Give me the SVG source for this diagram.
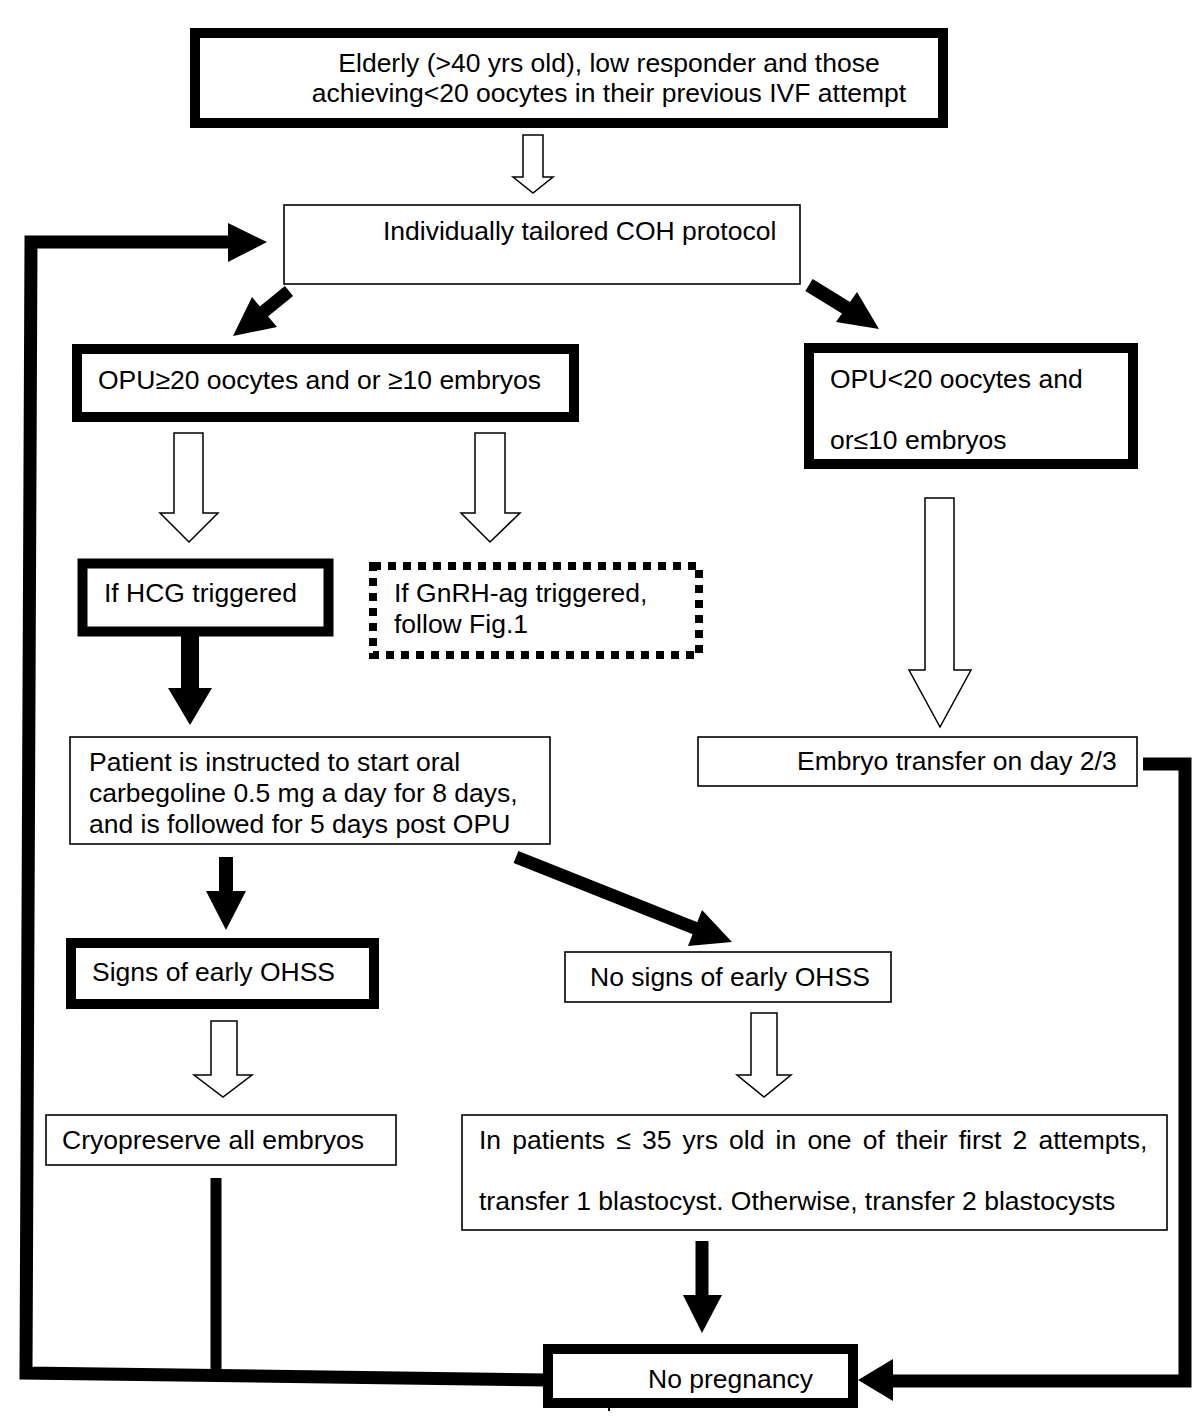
<svg xmlns="http://www.w3.org/2000/svg" width="1200" height="1422" viewBox="0 0 1200 1422">
<style>
.thick{fill:#fff;stroke:#000;stroke-width:10}
.thin{fill:#fff;stroke:#000;stroke-width:1.6}
.dotted{fill:#fff;stroke:#000;stroke-width:8;stroke-dasharray:8 7}
.hollow{fill:#fff;stroke:#000;stroke-width:1.5;stroke-linejoin:miter}
.head{fill:#000;stroke:none}
.bar{fill:none;stroke:#000;stroke-linejoin:miter;stroke-linecap:butt}
text{font-family:"Liberation Sans",Arial,sans-serif;font-size:26.5px;fill:#000}
</style>
<rect width="1200" height="1422" fill="#fff"/>
<g id="connectors">
  <!-- hollow arrows -->
  <polygon class="hollow" points="523,135 543,135 543,177 553,177 533,193 513,177 523,177 523,135"/>
  <polygon class="hollow" points="174,433 203,433 203,513 218,513 189,542 160,513 174,513 174,433"/>
  <polygon class="hollow" points="475,433 505,433 505,513 520,513 490,542 461,513 475,513 475,433"/>
  <polygon class="hollow" points="925,498 954,498 954,670 971,670 940,727 909,670 925,670 925,498"/>
  <polygon class="hollow" points="211,1021 237,1021 237,1075 252,1075 223,1097 194,1075 211,1075 211,1021"/>
  <polygon class="hollow" points="751,1013 777,1013 777,1075 791,1075 764,1097 737,1075 751,1075 751,1013"/>
  <!-- solid diagonal arrows -->
  <line class="bar" x1="289" y1="291" x2="262" y2="313" stroke-width="13"/>
  <polygon class="head" points="233,336 252,297 277,327"/>
  <line class="bar" x1="809" y1="285" x2="848" y2="309" stroke-width="14"/>
  <polygon class="head" points="879,329 836,322 857,292"/>
  <line class="bar" x1="516" y1="857" x2="697" y2="929" stroke-width="13"/>
  <polygon class="head" points="732,942 702,910 688,946"/>
  <!-- solid down arrows -->
  <line class="bar" x1="190" y1="636" x2="190" y2="690" stroke-width="18"/>
  <polygon class="head" points="168,688 212,688 190,725"/>
  <line class="bar" x1="226" y1="857" x2="226" y2="893" stroke-width="14"/>
  <polygon class="head" points="206,891 246,891 226,930"/>
  <line class="bar" x1="702" y1="1241" x2="702" y2="1297" stroke-width="13"/>
  <polygon class="head" points="683,1295 722,1295 702,1333"/>
  <!-- left loop -->
  <polyline class="bar" points="547,1380 26,1373 31,242 230,242" stroke-width="13"/>
  <polygon class="head" points="228,223 267,242 228,262"/>
  <line class="bar" x1="216" y1="1178" x2="216" y2="1373" stroke-width="11"/>
  <!-- right loop -->
  <polyline class="bar" points="1143,764 1185,764 1185,1381 893,1381" stroke-width="13"/>
  <polygon class="head" points="893,1359 893,1401 858,1380"/>
</g>
<g id="n-start">
  <rect class="thick" x="195" y="33" width="748" height="90"/>
  <text x="609" y="72" text-anchor="middle">Elderly (&gt;40 yrs old), low responder and those</text>
  <text x="609" y="102" text-anchor="middle">achieving&lt;20 oocytes in their previous IVF attempt</text>
</g>
<g id="n-coh">
  <rect class="thin" x="284" y="205" width="516" height="79"/>
  <text x="383" y="240">Individually tailored COH protocol</text>
</g>
<g id="n-opu-high">
  <rect class="thick" x="77" y="349" width="497" height="68"/>
  <text x="98" y="389">OPU≥20 oocytes and or ≥10 embryos</text>
</g>
<g id="n-opu-low">
  <rect class="thick" x="809" y="348" width="324" height="116"/>
  <text x="830" y="388">OPU&lt;20 oocytes and</text>
  <text x="830" y="449">or≤10 embryos</text>
</g>
<g id="n-hcg">
  <rect class="thick" x="82.5" y="563.5" width="246" height="68" stroke-width="9"/>
  <text x="104" y="602">If HCG triggered</text>
</g>
<g id="n-gnrh">
  <rect class="dotted" x="373" y="566" width="326" height="89"/>
  <text x="394" y="602">If GnRH-ag triggered,</text>
  <text x="394" y="633">follow Fig.1</text>
</g>
<g id="n-patient">
  <rect class="thin" x="70" y="737" width="480" height="107"/>
  <text x="89" y="771">Patient is instructed to start oral</text>
  <text x="89" y="802">carbegoline 0.5 mg a day for 8 days,</text>
  <text x="89" y="833">and is followed for 5 days post OPU</text>
</g>
<g id="n-embryo">
  <rect class="thin" x="698" y="737" width="439" height="49"/>
  <text x="797" y="770">Embryo transfer on day 2/3</text>
</g>
<g id="n-signs">
  <rect class="thick" x="71" y="943" width="303" height="61"/>
  <text x="92" y="981">Signs of early OHSS</text>
</g>
<g id="n-nosigns">
  <rect class="thin" x="565" y="952" width="326" height="50"/>
  <text x="590" y="986">No signs of early OHSS</text>
</g>
<g id="n-cryo">
  <rect class="thin" x="46" y="1115" width="350" height="50"/>
  <text x="62" y="1149">Cryopreserve all embryos</text>
</g>
<g id="n-transfer">
  <rect class="thin" x="462" y="1115" width="705" height="115"/>
  <text x="479" y="1149" word-spacing="3.8">In patients ≤ 35 yrs old in one of their first 2 attempts,</text>
  <text x="479" y="1210">transfer 1 blastocyst. Otherwise, transfer 2 blastocysts</text>
</g>
<g id="n-nopreg">
  <rect class="thick" x="548" y="1349" width="305" height="54"/>
  <text x="648" y="1388">No pregnancy</text>
</g>
<rect x="608" y="1407" width="2" height="4" fill="#000"/>
</svg>
